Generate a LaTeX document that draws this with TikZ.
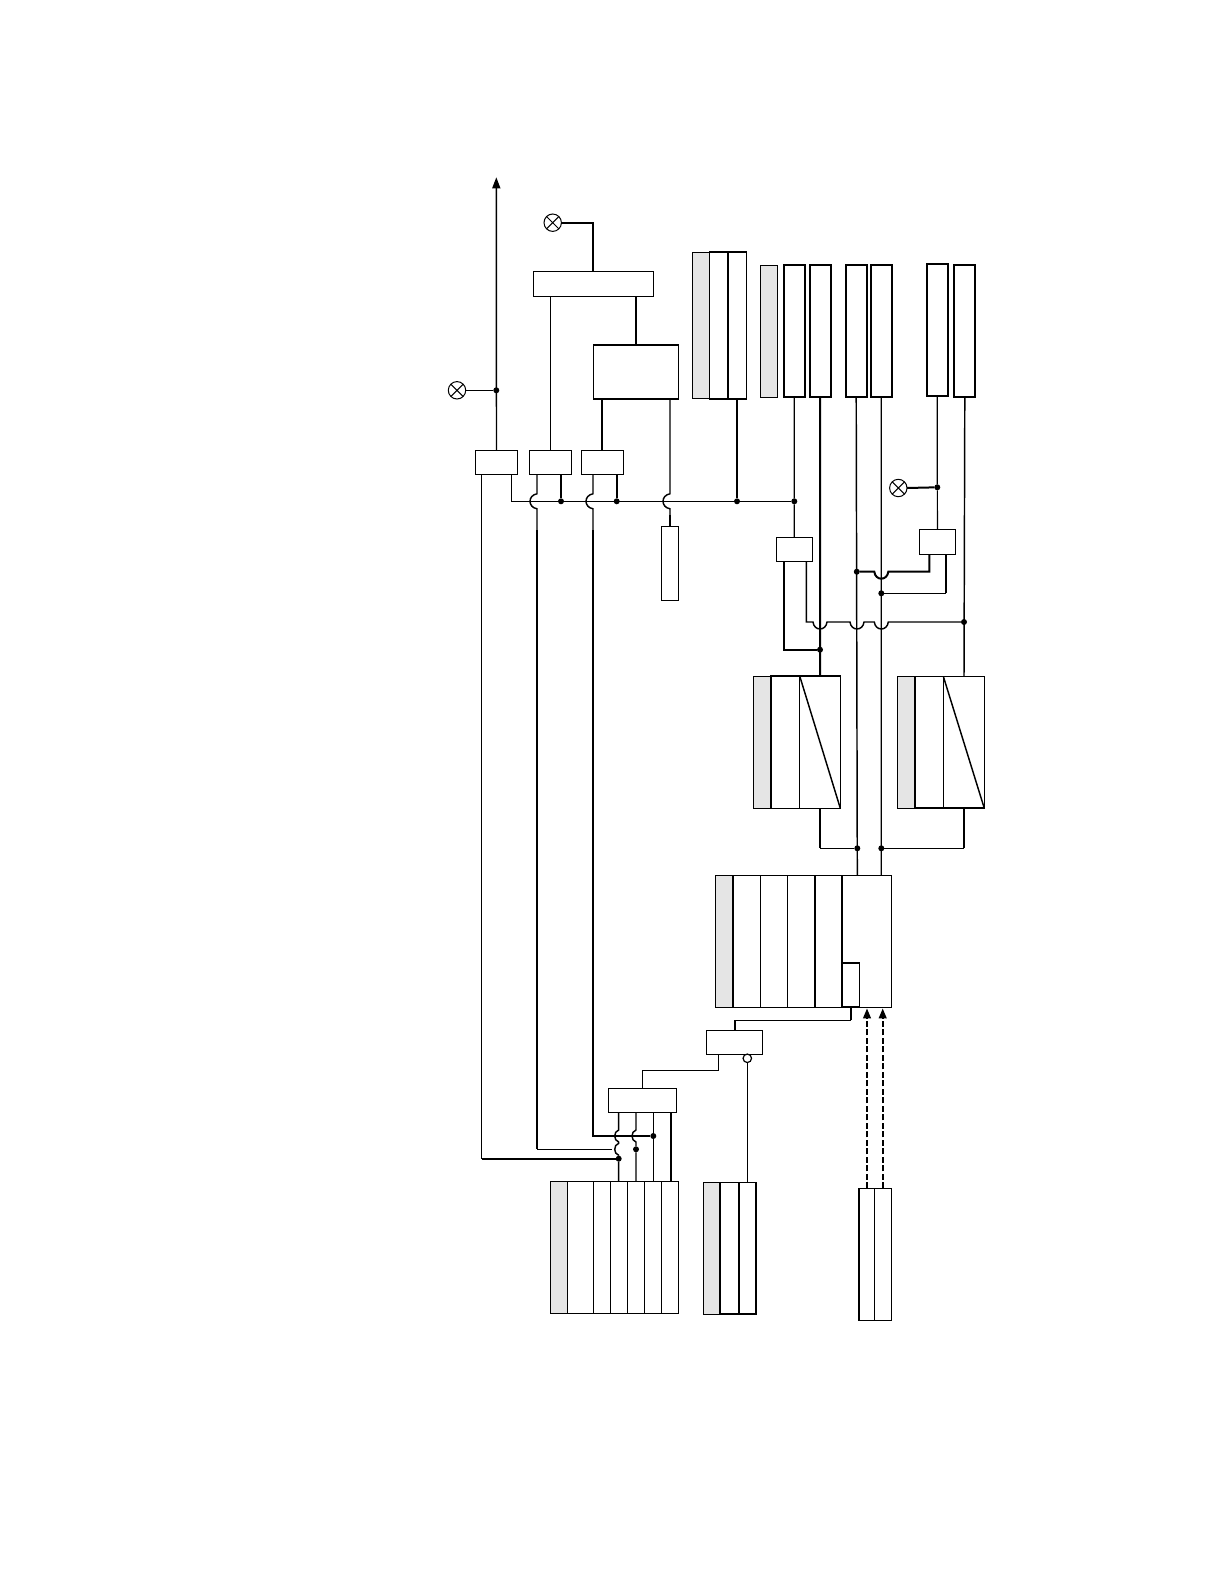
\documentclass[tikz,border=0pt]{standalone}
\usetikzlibrary{arrows.meta}
\tikzset{
  x=1pt,y=-1pt,
  thinw/.style={line width=1.15pt,black},
  medw/.style={line width=1.45pt,black},
  thickw/.style={line width=2pt,black},
  cell/.style={draw=black,line width=1.1pt,fill=white,inner sep=0pt,outer sep=0pt},
  graycell/.style={cell,fill=black!10,line width=1pt},
  heavycell/.style={cell,line width=2pt},
  dot/.style={circle,fill=black,inner sep=0pt,outer sep=0pt,minimum size=6pt},
  lampc/.style={circle,draw=black,line width=1pt,fill=white,inner sep=0pt,outer sep=0pt,minimum size=17.4pt},
  invc/.style={circle,draw=black,line width=1.2pt,fill=white,inner sep=0pt,outer sep=0pt,minimum size=8.5pt},
  dasharrow/.style={line width=2.2pt,black,dash pattern=on 6pt off 2.5pt,-{Stealth[length=10pt,width=7.5pt,inset=0pt]}},
  toparrow/.style={medw,-{Stealth[length=11pt,width=8pt,inset=0pt]}}
}
% \bx[style]{x1}{y1}{x2}{y2}{name}
\newcommand\bx[6][cell]{\node[#1,anchor=north west,minimum width={(#4-(#2))*1pt},minimum height={(#5-(#3))*1pt}] (#6) at (#2,#3) {};}
\newcommand\lamp[3]{\node[lampc] (#1) at (#2,#3) {};
  \draw[line width=1pt] (#1.45) -- (#1.225) (#1.135) -- (#1.315);}
% downward hop in a horizontal run that goes rightwards
\newcommand\hopH[2]{-- ({#1-7},#2) .. controls ({#1-6},{#2+9.3}) and ({#1+6},{#2+9.3}) .. ({#1+7},#2)}
\newcommand\hopHL[2]{-- ({#1+7},#2) .. controls ({#1+6},{#2+9.3}) and ({#1-6},{#2+9.3}) .. ({#1-7},#2)}
% leftward bulge in a vertical run that goes downwards: x, y, half height, depth
\newcommand\hopV[4]{-- (#1,{#2-#3}) .. controls ({#1-#4*1.33},{#2-#3+1.5}) and ({#1-#4*1.33},{#2+#3-1.5}) .. (#1,{#2+#3})}
\begin{document}
\begin{tikzpicture}
\useasboundingbox (0,0) rectangle (1224,1584);
\fill[white] (0,0) rectangle (1224,1584);

% ---------- upper left boxes
\bx{533.3}{271.3}{653.3}{296.3}{wide}
\bx{593.3}{344.7}{678.7}{399}{big}
\bx{475.3}{450.3}{517.7}{474.3}{bA}
\bx{529.3}{450.3}{571.3}{474.3}{bB}
\bx{581.3}{450.3}{623.3}{474.3}{bC}
\bx{661.7}{526.7}{678.3}{600.3}{tallS}
\draw[thickw] (big.north west) -- (big.north east) (big.south west) -- (big.south east);

% stack 1
\bx[graycell]{692.7}{252.3}{709.3}{398.7}{saG}
\bx{709.3}{251.7}{727.7}{399}{saA}
\bx{727.7}{251.7}{746.3}{399}{saB}
\draw[thickw] (saA.north west) -- (saB.north east) (saA.south west) -- (saB.south east) (saB.north west) -- (saB.south west);
\draw[medw] (saB.north east) -- (saB.south east) (saA.north west) -- (saA.south west);

% upper right bars
\bx[graycell]{760.3}{265}{777.7}{397.3}{barG}
\bx[heavycell]{783.7}{264.7}{804.7}{397}{barA}
\bx[heavycell]{809.7}{264.7}{830.7}{397}{barB}
\bx[heavycell]{845.7}{264.7}{866.7}{397}{barC}
\bx[heavycell]{870.7}{264.7}{891.7}{397}{barD}
\bx[heavycell]{926.7}{263.7}{947.7}{396}{barE}
\bx[heavycell]{954.3}{264.7}{975.3}{397}{barF}

% relay boxes
\bx{776.3}{537.3}{812.3}{561.3}{relG}
\bx{919.3}{529.3}{955.7}{554.3}{relH}

% stacks with diagonal
\bx[graycell]{753.3}{676}{771}{808.3}{pG}
\bx{771}{676}{799.7}{808.3}{pA}
\bx{799.7}{676}{840.3}{808.3}{pB}
\draw[thickw] (pA.north west) -- (pB.north east) (pA.north west) -- (pA.south west);
\draw[medw] (pB.north west) -- (pB.south east);
\bx[graycell]{897.3}{676.3}{915}{808.3}{qG}
\bx{915}{676.3}{943.3}{808.3}{qA}
\bx{943.3}{676.3}{984.3}{808.3}{qB}
\draw[thickw] (qA.north west) -- (qA.south west) -- (qB.south east);
\draw[medw] (qB.north west) -- (qB.south east);

% big controller stack
\bx[graycell]{715.7}{875.3}{733}{1007.3}{cG}
\bx{733}{875.3}{760.3}{1007.3}{cA}
\bx{760.3}{875.3}{787.3}{1007.3}{cB}
\bx{787.3}{875.3}{815}{1007.3}{cC}
\bx{815}{875.3}{842}{1007.3}{cD}
\bx{842}{875.3}{891.7}{1007.3}{cE}
\bx[cell,line width=1.45pt]{842}{962.7}{859.3}{1007.3}{cIn}
\draw[thickw] (cA.north west) -- (cA.south west) (cC.north east) -- (cC.south east) (cD.north east) -- (cD.south east) (cIn.north west) -- (cIn.north east) (cIn.south west) -- (cIn.south east);

% lower boxes
\bx{706.3}{1030.3}{762.5}{1054.3}{relK}
\bx{608.3}{1088.3}{676.7}{1112.3}{relL}

\bx[graycell]{550.7}{1181.3}{567.3}{1313.3}{mG}
\bx{567.3}{1181.3}{593.3}{1313.3}{mA}
\bx{593.3}{1181.3}{610.3}{1313.3}{mB}
\bx{610.3}{1181.3}{627.3}{1313.3}{mC}
\bx{627.3}{1181.3}{644.3}{1313.3}{mD}
\bx{644.3}{1181.3}{661.3}{1313.3}{mE}
\bx{661.3}{1181.3}{678.3}{1313.3}{mF}

\bx[graycell]{703.7}{1182.3}{719.7}{1314.3}{nG}
\bx{719.7}{1182.3}{738.7}{1314.3}{nA}
\bx{738.7}{1182.3}{756}{1314.3}{nB}
\draw[thickw] (nA.north west) -- (nA.south west) -- (nB.south east) -- (nB.north east) (nB.north west) -- (nB.south west);

\bx{858.7}{1188.3}{874.3}{1320.3}{rA}
\bx{874.3}{1188.3}{891.3}{1320.3}{rB}
\draw[thickw] (rA.north west) -- (rA.south west);
\draw[medw] (rA.south west) -- (rB.south east);

% ---------- lamps and dots
\lamp{lA}{457}{390.3}
\lamp{lB}{552.7}{222.7}
\lamp{lC}{898.3}{488}
\node[invc] (inv) at (747.3,1058.3) {};

\node[dot] (dTop) at (496.3,390.3) {};
\node[dot] (dB1) at (561,501.3) {};
\node[dot] (dB2) at (616.7,501.3) {};
\node[dot] (dB3) at (737,501.3) {};
\node[dot] (dB4) at (794.3,501.3) {};
\node[dot] (dE) at (937.3,487.3) {};
\node[dot] (dC1) at (856.8,571.7) {};
\node[dot] (dD1) at (881.3,593.3) {};
\node[dot] (dF1) at (964,622) {};
\node[dot] (dB5) at (820,649.7) {};
\node[dot] (dC2) at (857.3,848.3) {};
\node[dot] (dD2) at (881.3,848.3) {};
\node[dot] (dL1) at (618.7,1158.7) {};
\node[dot] (dL2) at (636,1149.3) {};
\node[dot] (dL3) at (653.3,1136) {};

% ---------- named attachment points
\coordinate (top) at (496.3,177.3);
\coordinate (wideT) at (593.3,271.3);
\coordinate (wideL) at (550.3,296.3);
\coordinate (wideR) at (636,296.3);
\coordinate (bigL) at (602,399);
\coordinate (bigR) at (670,399);
\coordinate (bBt) at (550.3,450.3);
\coordinate (bCt) at (602,450.3);
\coordinate (bAl) at (481.7,474.3);
\coordinate (bAr) at (511.7,474.3);
\coordinate (bBl) at (537,474.3);
\coordinate (bBr) at (561,474.3);
\coordinate (bCl) at (593,474.3);
\coordinate (bCr) at (616.7,474.3);
\coordinate (saBot) at (737,399);
\coordinate (barEb) at (937.3,396);
\coordinate (relGl) at (784,561.3);
\coordinate (relGr) at (806.3,561.3);
\coordinate (relHl) at (929.3,554.3);
\coordinate (relHr) at (946,554.3);
\coordinate (pT) at (820,676);
\coordinate (pB2) at (820,808.3);
\coordinate (qT) at (964,676.3);
\coordinate (qB2) at (964,808.3);
\coordinate (cT1) at (857.3,875.3);
\coordinate (cT2) at (881.3,875.3);
\coordinate (cBt) at (851,1007.3);
\coordinate (kT) at (735,1030.3);
\coordinate (kB) at (718.3,1054.3);
\coordinate (lT) at (642.3,1088.3);
\coordinate (nT) at (747.3,1182.3);
\coordinate (arr1a) at (867,1188.3);
\coordinate (arr1b) at (867,1008.3);
\coordinate (arr2a) at (882.7,1188.3);
\coordinate (arr2b) at (882.7,1008.3);

% ---------- connectors
\draw[toparrow] (bA.north) -- (top);
\draw[thinw] (lA) -- (dTop);
\draw[thickw] (lB.east) -| (wideT);
\draw[medw] (wideL) -- (bBt);
\draw[thickw] (wideR) -- (big.north -| wideR);
\draw[medw] (bigL) -- (bCt);
\draw[medw] (bAl) -- (481.7,1158.7);
\draw[thickw] (481.7,1158.7) -- (dL1);

% bus
\draw[thinw] (bAr) |- (dB4);
\draw[thickw] (bBr) -- (dB1);
\draw[thickw] (bCr) -- (dB2);
\draw[thickw] (saBot) -- (dB3);

% vertical wires that bulge over the bus
\draw[medw] (bBl) \hopV{537}{501.3}{7.5}{7} -- (537,530);
\draw[thickw] (537,530) -- (537,1149.3);
\draw[thinw] (537,1149.3) -- (612,1149.3);
\draw[medw] (bCl) \hopV{593}{501.3}{7.5}{7} -- (593,530);
\draw[thickw] (593,530) -- (593,1136) -- (dL3);
\draw[medw] (bigR) \hopV{670}{501.3}{7.5}{7} -- (670,515);
\draw[thickw] (670,515) -- (670,526.7);

% bars down
\draw[thinw] (barA.south) -- (dB4) -- (794.3,537.3);
\draw[thickw] (barB.south) -- (pT);
\draw[medw] (barC.south) -- (cT1);
\draw[thinw] (barD.south) -- (cT2);
\draw[thinw] (barEb) -- (dE) -- (relH.north);
\draw[medw] (barF.south) -- (qT);
\draw[thickw] (lC.east) -- (dE);

% relay G and relay H
\draw[thickw] (relGl) |- (dB5);
\draw[medw] (relGr) |- (806.3,622) \hopH{820}{622} \hopH{857}{622} \hopH{881.3}{622} -- (dF1);
\draw[thickw] (relHl) |- (929.3,571.7) \hopHL{881.3}{571.7} -- (dC1);
\draw[thickw] (relHr) -- (946,593.3);
\draw[medw] (946,593.3) -- (dD1);

% stacks to controller
\draw[thickw] (pB2) |- (820,848.3);
\draw[medw] (820,848.3) -- (dC2);
\draw[thickw] (qB2) |- (964,848.3);
\draw[medw] (964,848.3) -- (dD2);

% controller to relay K
\draw[thickw] (cBt) -- (851,1020.3);
\draw[medw] (851,1020.3) -- (735,1020.3);
\draw[thickw] (735,1020.3) -- (kT);
\draw[thinw] (kB) |- (642.3,1070.3) -- (lT);
\draw[medw] (inv.south) -- (nT);

% relay L down to the left stack
\draw[medw] (618.7,1112.3) \hopV{618.7}{1136}{6}{4} \hopV{618.7}{1149.3}{6}{4} -- (dL1) -- (618.7,1181.3);
\draw[medw] (636,1112.3) \hopV{636}{1136}{6}{4} -- (dL2) -- (636,1181.3);
\draw[thinw] (653.3,1112.3) -- (dL3) -- (653.3,1181.3);
\draw[thickw] (671,1112.3) -- (671,1181.3);

% dashed arrows
\draw[dasharrow] (arr1a) -- (arr1b);
\draw[dasharrow] (arr2a) -- (arr2b);
\end{tikzpicture}
\end{document}
